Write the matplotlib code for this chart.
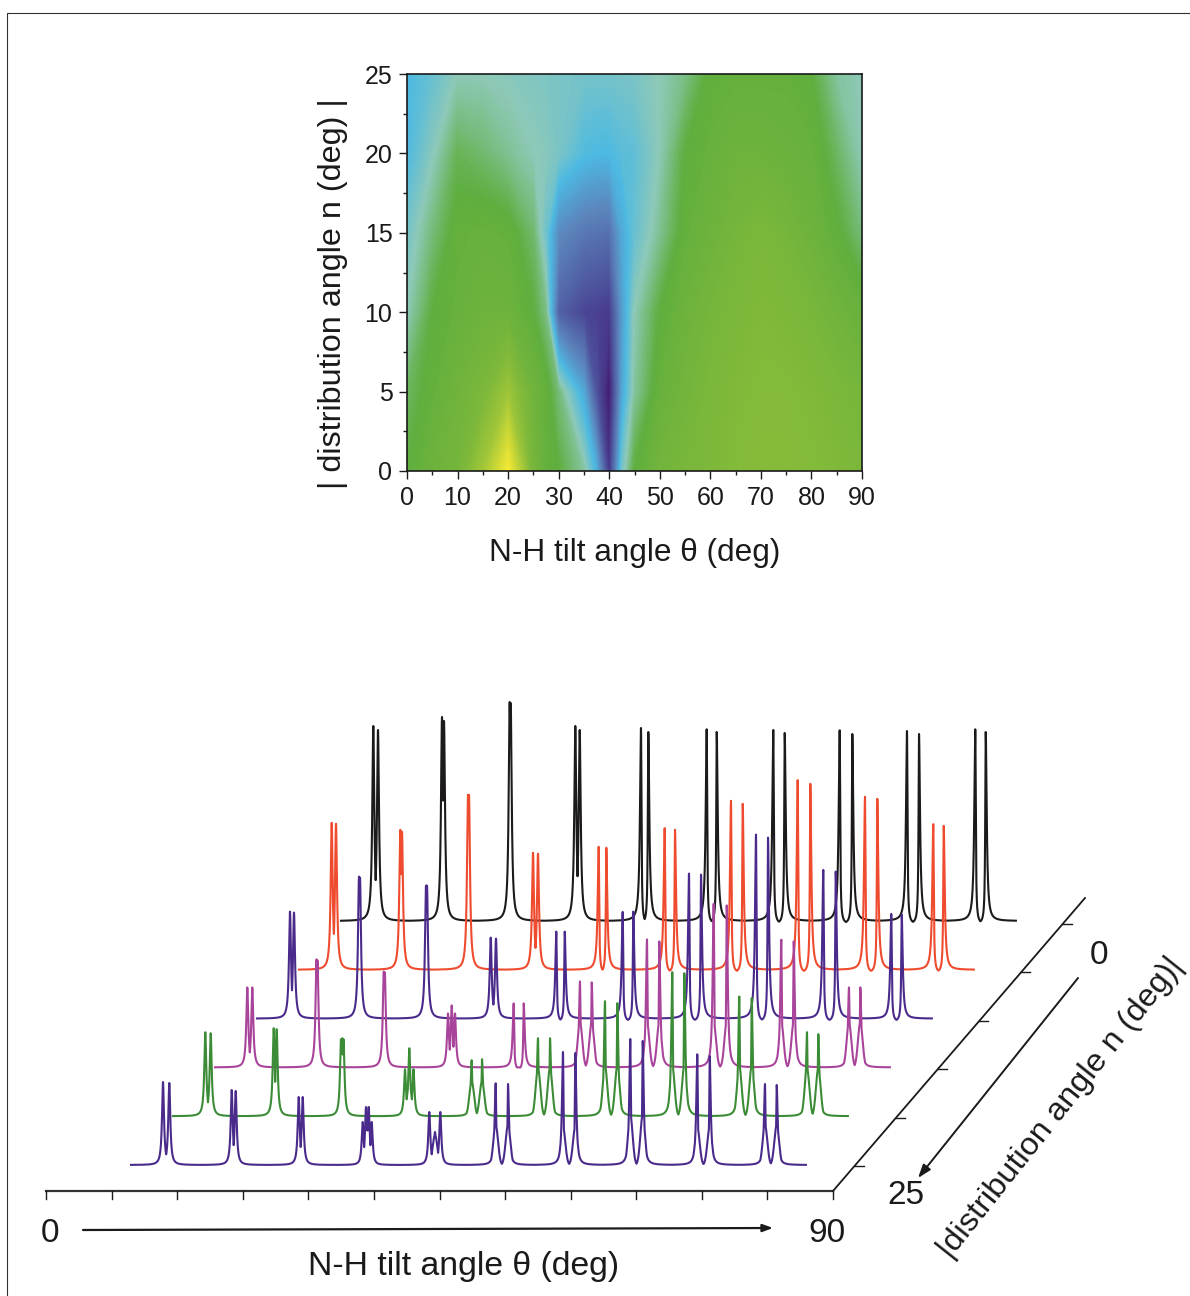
import matplotlib
matplotlib.use("Agg")
import matplotlib.pyplot as plt
from matplotlib.colors import LinearSegmentedColormap
import numpy as np

plt.rcParams['font.family'] = ['Liberation Sans', 'DejaVu Sans']

# mapa konturowa: wartosci (skala 0-1)
theta = [0, 5, 10, 15, 20, 25, 27.5, 30, 35, 37.5, 40, 42.5, 45, 50, 55, 60, 65, 70, 75, 80, 85, 90]
n_angle = [0, 5, 10, 15, 20, 25]
map_n0 = [.60, .65, .68, .80, 1.0, .68, .62, .60, .52, .38, .07, .46, .60, .67, .69, .71, .73, .74, .74, .73, .72, .70]
map_n5 = [.57, .62, .66, .70, .79, .66, .62, .55, .36, .14, .01, .35, .52, .63, .67, .70, .72, .73, .73, .72, .70, .68]
map_n10 = [.50, .60, .63, .65, .65, .60, .54, .18, .11, .10, .08, .33, .50, .60, .65, .68, .70, .72, .71, .69, .66, .63]
map_n15 = [.46, .55, .62, .63, .62, .56, .45, .29, .24, .23, .22, .36, .44, .53, .62, .65, .68, .70, .68, .65, .61, .55]
map_n20 = [.40, .49, .58, .56, .53, .50, .49, .47, .41, .40, .40, .42, .43, .50, .60, .63, .65, .65, .64, .63, .57, .50]
map_n25 = [.40, .44, .50, .50, .49, .48, .475, .47, .46, .46, .46, .465, .47, .50, .54, .61, .62, .62, .62, .60, .52, .50]
map_stops = [0, .12, .28, .40, .50, .60, .73, 1]
map_colors = ['#43156f', '#4b4a96', '#5b86bd', '#4db9e2', '#8ec9b8', '#5fae3e', '#83ba3a', '#f7ea34']

x_ticks = [0, 10, 20, 30, 40, 50, 60, 70, 80, 90]
y_ticks = [0, 5, 10, 15, 20, 25]

# widma: polozenia pikow i wysokosci, wg serii (od tylu do przodu)
black_pos = [32.3, 37, 101, 103, 168.7, 169.7, 234.3, 238.7, 300, 307.3, 365.7, 375.7, 432.3, 443.7, 498.7, 511.3, 566, 578, 634.3, 644.7]
black_h = [195, 191, 204, 200, 219, 218, 195, 191, 193, 189, 192, 189, 191, 188, 191, 187, 190, 187, 192, 189]
red_pos = [32.7, 37, 101.3, 103, 169, 170, 234, 239, 299.7, 307.3, 365.7, 376, 432, 443.7, 498.7, 511.3, 566, 578.3, 634.3, 644.7]
red_h = [147, 146, 140, 138, 175, 175, 117, 116, 123, 122, 142, 140, 169, 166, 190, 186, 173, 171, 146, 144]
indigo_pos = [33, 37, 102, 103, 169, 170, 233.7, 239, 299.3, 307.7, 365.7, 376.3, 432, 444, 499, 511, 566.3, 578.7, 634.3, 644.7]
indigo_h = [107, 106, 142, 141, 133, 133, 81, 80, 87, 87, 107, 107, 145, 144, 184, 181, 149, 147, 105, 104]
magenta_pos = [32.3, 37.3, 101.5, 102.5, 168.8, 169.8, 233, 236.7, 240, 298.7, 308.7, 365, 376.7, 432, 444.3, 498.7, 511.7, 566.3, 578.7, 634, 645.3]
magenta_h = [80, 80, 108, 107, 96, 95, 54, 62, 54, 64, 64, 86, 85, 128, 126, 164, 162, 128, 126, 80, 80]
green_pos = [32.3, 37.7, 100.7, 103.7, 168, 169.2, 170.5, 232, 236.3, 240.5, 298.7, 309, 365, 377, 432, 444.3, 499.3, 511.3, 566.3, 578.7, 634, 645.3]
green_h = [84, 83, 88, 87, 77, 78, 77, 47, 68, 47, 56, 57, 78, 78, 115, 113, 144, 143, 120, 118, 84, 82]
front_pos = [32, 38.3, 100.7, 104.7, 167.7, 171.7, 231.7, 235, 237.7, 240.7, 298.3, 304, 309.3, 364.7, 377, 432, 444.3, 499.3, 511.7, 566.3, 578.7, 634, 645.7]
front_h = [83, 82, 75, 74, 68, 68, 43, 58, 58, 43, 53, 33, 53, 82, 81, 113, 112, 126, 124, 111, 109, 81, 80]

# szerokie podstawy pikow
magenta_broad = [365, 376.7, 432, 444.3, 498.7, 511.7, 566.3, 578.7, 634, 645.3]
magenta_broad_h = [45, 45, 45, 45, 45, 45, 45, 45, 45, 45]
green_broad = [236.3, 298.7, 309, 365, 377, 432, 444.3, 499.3, 511.3, 566.3, 578.7, 634, 645.3]
green_broad_h = [32, 35, 35, 48, 48, 50, 50, 50, 50, 50, 50, 48, 48]
front_broad = [236.3, 304, 364.7, 377, 432, 444.3, 499.3, 511.7, 566.3, 578.7, 634, 645.7]
front_broad_h = [35, 30, 40, 40, 38, 38, 50, 50, 38, 38, 40, 40]

spectra = [
    (black_pos, black_h, [], [], '#1c1a1b'),
    (red_pos, red_h, [], [], '#ee4b2f'),
    (indigo_pos, indigo_h, [], [], '#4a2b8b'),
    (magenta_pos, magenta_h, magenta_broad, magenta_broad_h, '#a9449b'),
    (green_pos, green_h, green_broad, green_broad_h, '#3c8b37'),
    (front_pos, front_h, front_broad, front_broad_h, '#4a2b8b'),
]


def spectrum(x, pos, h, broad, broad_h):
    w = 1.2
    y = np.zeros_like(x)
    for p, a in zip(pos, h):
        y = np.maximum(y, a * w**2 / ((x - p)**2 + w**2))
    # szersze dublety schodza ponizej linii bazowej
    for i in range(len(pos) - 1):
        sep = pos[i + 1] - pos[i]
        if 6.5 <= sep <= 16:
            m = (x > pos[i]) & (x < pos[i + 1])
            inner = np.maximum(h[i] * .3 / ((x[m] - pos[i])**2 + .3),
                               h[i + 1] * .3 / ((x[m] - pos[i + 1])**2 + .3))
            mid = (pos[i] + pos[i + 1]) / 2
            y[m] = inner - 2.4 * np.exp(-(x[m] - mid)**2 / (2 * (sep / 4)**2))
    for p, a in zip(broad, broad_h):
        y = np.maximum(y, a * np.exp(-(x - p)**2 / (2 * 2.3**2)))
    return y


fig = plt.figure(figsize=(11.9, 12.96), dpi=100, facecolor='white')
W, H = 1190, 1296

# GORNY WYKRES
ax = fig.add_axes([407 / W, 1 - 471 / H, 455 / W, 397 / H])
Z = np.array([map_n0, map_n5, map_n10, map_n15, map_n20, map_n25])
cmap = LinearSegmentedColormap.from_list('nh', list(zip(map_stops, map_colors)), N=512)
ax.contourf(theta, n_angle, Z, levels=np.linspace(0, 1, 201), cmap=cmap, antialiased=False)
ax.set_xlim(0, 90)
ax.set_ylim(0, 25)
ax.set_xticks(x_ticks)
ax.set_yticks(y_ticks)
ax.set_xticks(np.arange(5, 90, 10), minor=True)
ax.set_yticks(np.arange(2.5, 25, 5), minor=True)
ax.tick_params(which='major', length=5.5, width=1, labelsize=18, colors='#1a1a1a', pad=5)
ax.tick_params(which='minor', length=3, width=1, colors='#1a1a1a')
for s in ax.spines.values():
    s.set_linewidth(1.2)
    s.set_color('#1a1a1a')
ax.set_xlabel('N-H tilt angle θ (deg)', fontsize=22.7, color='#1a1a1a')
ax.set_ylabel('| distribution angle n (deg) |', fontsize=23.3, color='#1a1a1a')
ax.xaxis.set_label_coords((635 - 407) / 455, (471 - 553) / 397)
ax.yaxis.set_label_coords((333 - 407) / 455, (471 - 294) / 397)
ax.xaxis.label.set_va('center')
ax.yaxis.label.set_va('center')

# DOLNY WYKRES, nakladka w pikselach rysunku
ov = fig.add_axes([0, 0, 1, 1], facecolor='none')
ov.set_xlim(0, W)
ov.set_ylim(H, 0)
ov.axis('off')

# ramka
ov.plot([6.5, 6.5, W], [H, 12.5, 12.5], color='#333333', lw=.8)

x_spec = np.arange(0, 675, .1)
n_spec = len(spectra)
for i, (pos, h, broad, broad_h, col) in enumerate(spectra):
    k = n_spec - 1 - i
    x0 = 131 + 42 * k
    y0 = 1165 - 48.8 * k
    ov.plot(x0 + x_spec, y0 - spectrum(x_spec, pos, h, broad, broad_h), color=col, lw=1.5)

ink = '#1a1a1a'
ov.plot([46, 833], [1191, 1191], color='#333333', lw=1.6)
for tx in np.linspace(46, 833, 13):
    ov.plot([tx, tx], [1191, 1199], color=ink, lw=1)
ov.plot([833, 1085], [1191, 898], color=ink, lw=1.3)
for ty in np.linspace(1166, 924, 6):
    tx = 833 + 252 * (1191 - ty) / 293
    ov.plot([tx, tx + 9], [ty, ty], color=ink, lw=1)

ov.annotate('', xy=(773, 1228), xytext=(83, 1230),
            arrowprops=dict(arrowstyle='-|>,head_width=.22,head_length=.6', color=ink, lw=1.6, shrinkA=0, shrinkB=0))
ov.annotate('', xy=(918, 1178), xytext=(1078, 978),
            arrowprops=dict(arrowstyle='-|>,head_width=.28,head_length=.8', color=ink, lw=1.4, shrinkA=0, shrinkB=0))

ov.text(50, 1233, '0', fontsize=24, color=ink, ha='center', va='center')
ov.text(827, 1233, '90', fontsize=24, color=ink, ha='center', va='center')
ov.text(464, 1266, 'N-H tilt angle θ (deg)', fontsize=24.3, color=ink, ha='center', va='center')
ov.text(1099, 955, '0', fontsize=24, color=ink, ha='center', va='center')
ov.text(906, 1196, '25', fontsize=24, color=ink, ha='center', va='center')
ov.text(1061, 1108, '|distribution angle n (deg)|', fontsize=23.4, color=ink, ha='center', va='center',
        rotation=51.5, rotation_mode='anchor')

plt.savefig('out.png', dpi=100)
